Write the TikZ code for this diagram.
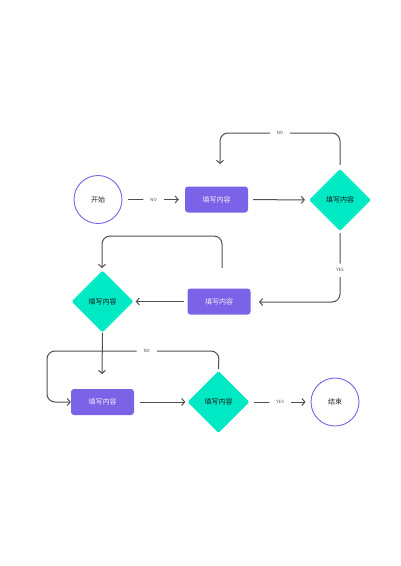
\documentclass[tikz,border=0pt]{standalone}
\usepackage{fontspec}
\setmainfont{Noto Sans CJK SC}
\usetikzlibrary{arrows.meta,shapes.geometric}
\definecolor{pur}{HTML}{7A63E6}
\definecolor{teal}{HTML}{00E8C4}
\definecolor{ln}{HTML}{505050}
\begin{document}
\begin{tikzpicture}[x=1pt,y=-1pt,
  circ/.style={circle,draw=pur,line width=0.9pt,minimum size=48pt,inner sep=0pt,font=\fontsize{7}{8}\selectfont,text=black!85},
  procbox/.style={rectangle,rounded corners=3pt,fill=pur,minimum width=63pt,minimum height=26pt,inner sep=0pt,font=\fontsize{7}{8}\selectfont,text=white!90!pur},
  decide/.style={diamond,fill=teal,rounded corners=1.5pt,minimum width=62pt,minimum height=62pt,inner sep=0pt,font=\fontsize{7}{8}\selectfont,text=black!90},
  conn/.style={draw=ln,line width=1pt,rounded corners=8pt,-{Straight Barb[length=3pt,width=7pt]}},
  lab/.style={fill=white,inner xsep=7pt,inner ysep=5pt,font=\fontsize{4.3}{4.3}\selectfont,text=black!70}]
\useasboundingbox (0,0) rectangle (400,566);
\fill[white] (0,0) rectangle (400,566);
\node[circ] (start) at (98,199.5) {开始};
\node[procbox] (b1) at (216.5,199.5) {填写内容};
\node[decide] (d1) at (340,200) {填写内容};
\node[procbox] (b2) at (219,301.5) {填写内容};
\node[decide] (d2) at (102.5,301.5) {填写内容};
\node[procbox] (b3) at (102.5,402) {填写内容};
\node[decide] (d3) at (218.5,402) {填写内容};
\node[circ] (end) at (335,402) {结束};
\coordinate (c1a) at (340,133);
\coordinate (c1b) at (220,133);
\coordinate (t1) at (220,164);
\coordinate (c2a) at (340,302);
\coordinate (t2) at (259,302);
\coordinate (s3) at (222,268);
\coordinate (c3a) at (222,236);
\coordinate (c3b) at (102,236);
\coordinate (t3) at (102,268);
\coordinate (t4) at (102,374);
\coordinate (c5a) at (219,351);
\coordinate (c5b) at (47,351);
\coordinate (c5c) at (47,402);
\path[conn,shorten <=6pt,shorten >=6pt] (start) -- node[lab]{NO} (b1);
\path[conn,shorten <=5pt,shorten >=4pt] (b1) -- (d1);
\path[conn,shorten <=4pt] (d1.north) -- (c1a) -- node[lab]{NO} (c1b) -- (t1);
\path[conn,shorten <=2pt] (d1.south) -- node[lab,pos=0.55]{YES} (c2a) -- (t2);
\path[conn,shorten <=3pt,shorten >=2pt] (b2) -- (d2);
\path[conn] (s3) -- (c3a) -- (c3b) -- (t3);
\path[conn] (d2.south) -- (t4);
\path[conn,shorten <=6pt,shorten >=2pt] (b3) -- (d3);
\path[conn,shorten <=2pt] (d3.north) -- (c5a) -- node[lab,pos=0.42]{NO} (c5b) -- (c5c) -- (b3.west);
\path[conn,shorten <=4pt,shorten >=5pt] (d3) -- node[lab]{YES} (end);
\end{tikzpicture}
\end{document}
